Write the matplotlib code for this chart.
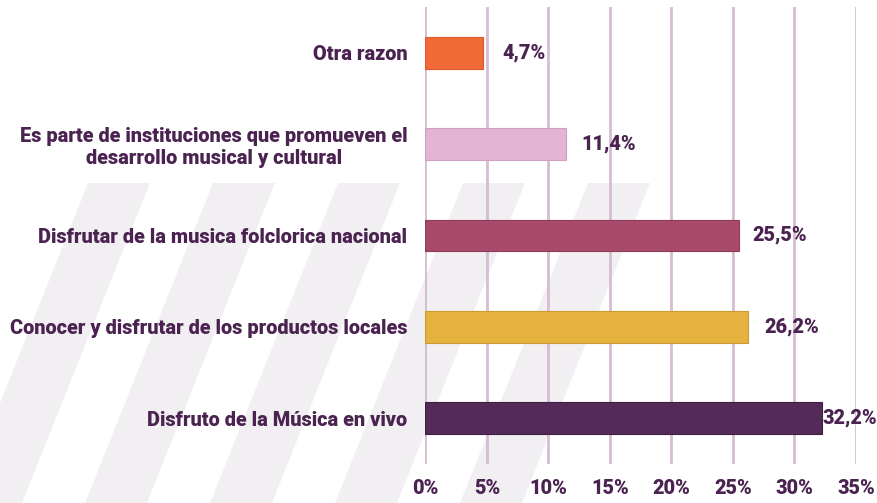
import matplotlib
matplotlib.use("Agg")
import matplotlib.pyplot as plt
from matplotlib.patches import Polygon

categories = [
    "Otra razon",
    "Es parte de instituciones que promueven el\ndesarrollo musical y cultural",
    "Disfrutar de la musica folclorica nacional",
    "Conocer y disfrutar de los productos locales",
    "Disfruto de la Música en vivo",
]
values = [4.7, 11.4, 25.5, 26.2, 32.2]
value_labels = ["4,7%", "11,4%", "25,5%", "26,2%", "32,2%"]
xticks = [0, 5, 10, 15, 20, 25, 30, 35]
xtick_labels = ["0%", "5%", "10%", "15%", "20%", "25%", "30%", "35%"]

colors = ["#F26A35", "#E2B6D2", "#AA4A6A", "#E6B23F", "#532A58"]
edges = ["#D95A2A", "#CFA0BF", "#8E3D59", "#C99A35", "#3F1F44"]
label_pad = [19, 16, 13, 17, 1]
text_color = "#4A2350"
grid_color = "#D7BCD2"
font = "Roboto"
fsize = 14.3

W, H = 878, 503
fig = plt.figure(figsize=(W / 100, H / 100), dpi=100)
fig.patch.set_facecolor("white")

# decorative diagonal background stripes (faint)
stripe_color = "#EEEAF0"
for x0 in [-40, 85, 210, 335, 460]:
    y_top, y_bot = 183, 503
    shift = 0.40 * (y_bot - y_top)
    pts = [(x0 + shift, y_top), (x0 + shift + 62, y_top), (x0 + 62, y_bot), (x0, y_bot)]
    pts = [(px / W, 1 - py / H) for px, py in pts]
    fig.patches.append(Polygon(pts, closed=True, transform=fig.transFigure,
                               facecolor=stripe_color, edgecolor="none", alpha=0.75, zorder=-10))

ax = fig.add_axes([425.5 / W, 1 - 464 / H, (856 - 425.5) / W, (464 - 7) / H])
ax.set_facecolor("none")
ax.set_zorder(1)

y = list(range(len(categories)))
ax.barh(y, values, height=0.35, color=colors, edgecolor=edges, linewidth=0.8, zorder=3)
ax.set_xlim(0, 35)
ax.set_ylim(4.5, -0.5)

ax.set_xticks(xticks)
ax.set_xticklabels(xtick_labels)
ax.set_yticks(y)
ax.set_yticklabels(categories, multialignment="center")
ax.tick_params(axis="both", length=0, colors=text_color, labelsize=fsize)
ax.tick_params(axis="y", pad=13)
ax.tick_params(axis="x", pad=11)
for lab in ax.get_xticklabels() + ax.get_yticklabels():
    lab.set_fontfamily(font)
    lab.set_fontweight("black")
    lab.set_color(text_color)

ax.xaxis.grid(True, color=grid_color, linewidth=2, zorder=1)
ax.yaxis.grid(False)
for s in ax.spines.values():
    s.set_visible(False)

for yi, v, lab, pad in zip(y, values, value_labels, label_pad):
    ax.annotate(lab, xy=(v, yi), xytext=(pad * 0.72, 0), textcoords="offset points",
                ha="left", va="center", fontsize=fsize, fontfamily=font,
                fontweight="black", color=text_color, zorder=4)

fig.savefig("out.png", dpi=100, facecolor="white")
